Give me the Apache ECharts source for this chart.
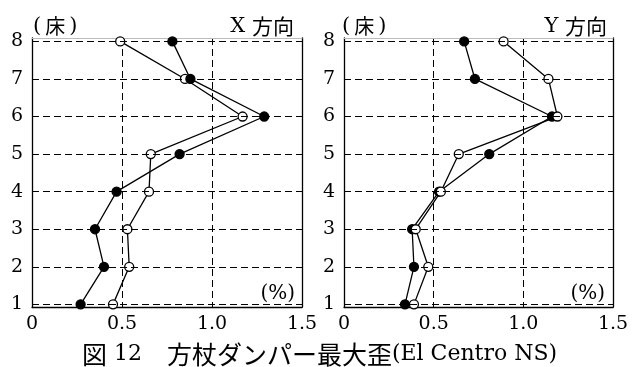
<!DOCTYPE html>
<html>
<head>
<meta charset="utf-8">
<script src="https://cdn.jsdelivr.net/npm/echarts@6/dist/echarts.min.js"></script>
<style>
  html, body { margin: 0; padding: 0; background: #fff; }
  #chart { width: 639px; height: 367px; }
</style>
</head>
<body>
<div id="chart"></div>
<script>
// Floors (床) on the vertical axis
const floors = [1, 2, 3, 4, 5, 6, 7, 8];
const yTicks = [1, 2, 3, 4, 5, 6, 7, 8];
const xTicks = [0, 0.5, 1.0, 1.5];

// Maximum strain of the knee-brace damper (%), El Centro NS
const xDirFilled = [0.27, 0.40, 0.35, 0.47, 0.82, 1.29, 0.88, 0.78];
const xDirOpen   = [0.45, 0.54, 0.53, 0.65, 0.66, 1.17, 0.85, 0.49];
const yDirFilled = [0.34, 0.39, 0.38, 0.53, 0.81, 1.16, 0.73, 0.67];
const yDirOpen   = [0.39, 0.47, 0.40, 0.54, 0.64, 1.19, 1.14, 0.89];

const SERIF = '"DejaVu Serif", "Liberation Serif", serif';
const CJK = '"Noto Sans CJK JP"';

function pairs(vals) {
  return vals.map((v, i) => [v, floors[i]]);
}

const grids = [
  { left: 32, top: 38, width: 270, height: 269 },
  { left: 344, top: 38, width: 269, height: 269 }
];

function makeX(gi) {
  return [
    {
      type: 'value', gridIndex: gi, min: 0, max: 1.5, interval: 0.5,
      axisLine: { show: true, lineStyle: { color: '#000', width: 1.3 } },
      axisTick: { show: false },
      axisLabel: {
        color: '#000', fontFamily: SERIF, fontSize: 19, margin: 8,
        customValues: xTicks,
        formatter: v => (v === 0 ? '0' : v.toFixed(1))
      },
      splitLine: { show: true, lineStyle: { color: '#000', type: [7, 4], width: 1 } }
    },
    {
      type: 'value', gridIndex: gi, position: 'top', min: 0, max: 1.5,
      axisLine: { show: true, onZero: false, lineStyle: { color: '#bbb', width: 1 } },
      axisTick: { show: false }, axisLabel: { show: false }, splitLine: { show: false }
    }
  ];
}

function makeY(gi) {
  return [
    {
      type: 'value', gridIndex: gi, min: 0.93, max: 8.09,
      axisLine: { show: true, onZero: false, lineStyle: { color: '#000', width: 1.3 } },
      axisTick: { show: false, customValues: yTicks },
      axisLabel: { color: '#000', fontFamily: SERIF, fontSize: 19, margin: 9, customValues: yTicks },
      splitLine: { show: false }
    },
    {
      type: 'value', gridIndex: gi, position: 'right', min: 0.93, max: 8.09,
      axisLine: { show: true, onZero: false, lineStyle: { color: '#000', width: 1.3 } },
      axisTick: { show: false }, axisLabel: { show: false }, splitLine: { show: false }
    }
  ];
}

// Horizontal dashed guides at each floor
function floorGuides() {
  return {
    silent: true, symbol: 'none', animation: false,
    label: { show: false },
    lineStyle: { color: '#000', type: [7, 4], width: 1 },
    data: yTicks.map(v => ({ yAxis: v }))
  };
}

function lineSeries(vals, xi, yi, filled, guides) {
  const s = {
    type: 'line', xAxisIndex: xi, yAxisIndex: yi,
    data: pairs(vals),
    symbol: 'circle', symbolSize: 9, showSymbol: true,
    lineStyle: { color: '#000', width: 1.3 },
    itemStyle: { color: filled ? '#000' : '#fff', borderColor: '#000', borderWidth: 1.3 },
    emphasis: { disabled: true },
    animation: false, z: 3
  };
  if (guides) s.markLine = floorGuides();
  return s;
}

const captionRich = {
  j: { fontFamily: CJK, fontSize: 25, fontWeight: 'normal', color: '#000' },
  l: { fontFamily: SERIF, fontSize: 22, fontWeight: 'normal', color: '#000' }
};
const headRich = {
  j: { fontFamily: CJK, fontSize: 21, fontWeight: 'normal', color: '#000' },
  p: { fontFamily: CJK, fontSize: 20, fontWeight: 'normal', color: '#000', padding: [0, 4] },
  l: { fontFamily: SERIF, fontSize: 21, fontWeight: 'normal', color: '#000' }
};

const chart = echarts.init(document.getElementById('chart'));
chart.setOption({
  backgroundColor: '#fff',
  animation: false,
  grid: grids,
  xAxis: [...makeX(0), ...makeX(1)],
  yAxis: [...makeY(0), ...makeY(1)],
  title: [
    { text: '{j|図}{l| 12}{j|　方杖ダンパー最大歪}{l|(El Centro NS)}', left: 'center', top: 337,
      textStyle: { fontWeight: 'normal', rich: captionRich } },
    { text: '{l|(}{p|床}{l|)}', left: 28, top: 11, textStyle: { fontWeight: 'normal', rich: headRich } },
    { text: '{l|X }{j|方向}', right: 340, top: 11, textStyle: { fontWeight: 'normal', rich: headRich } },
    { text: '(%)', right: 339, top: 279,
      textStyle: { fontFamily: SERIF, fontSize: 20, fontWeight: 'normal', color: '#000' } },
    { text: '{l|(}{p|床}{l|)}', left: 337, top: 11, textStyle: { fontWeight: 'normal', rich: headRich } },
    { text: '{l|Y }{j|方向}', right: 27, top: 11, textStyle: { fontWeight: 'normal', rich: headRich } },
    { text: '(%)', right: 29, top: 279,
      textStyle: { fontFamily: SERIF, fontSize: 20, fontWeight: 'normal', color: '#000' } }
  ],
  series: [
    // X direction: open drawn first, filled on top
    lineSeries(xDirOpen, 0, 0, false, true),
    lineSeries(xDirFilled, 0, 0, true, false),
    // Y direction: filled drawn first, open on top
    lineSeries(yDirFilled, 2, 2, true, true),
    lineSeries(yDirOpen, 2, 2, false, false)
  ]
});
</script>
</body>
</html>
